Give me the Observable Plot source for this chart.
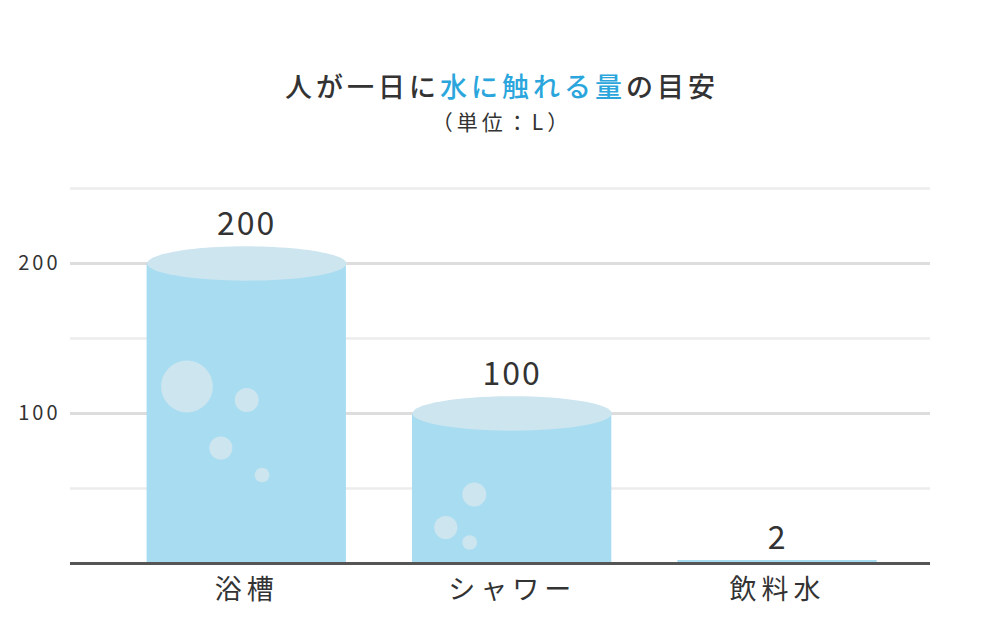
<!DOCTYPE html>
<html>
<head>
<meta charset="utf-8">
<script src="https://cdn.jsdelivr.net/npm/d3@7"></script>
<script src="https://cdn.jsdelivr.net/npm/@observablehq/plot@0.6"></script>
<style>
  body { margin: 0; background: #fff; font-family: "Noto Sans CJK JP", "Noto Sans", sans-serif; }
  #wrap { width: 1000px; height: 636px; position: relative; overflow: hidden; }
  #head { height: 150px; position: relative; color: #333; text-align: center; }
  #title { position: absolute; left: 0; right: 0; top: 70px; font-size: 27px; line-height: 32px; letter-spacing: 4px; padding-left: 4px; font-weight: 500; }
  #title .hl { color: #2ba6dd; }
  #sub { position: absolute; left: 0; right: 0; top: 107px; font-size: 21px; line-height: 28px; letter-spacing: 4px; padding-left: 4px; }
  g[aria-label="x-axis tick label"] text { letter-spacing: 5px; }
  g[aria-label="y-axis tick label"] text { letter-spacing: 3px; }
  g.vlabel text { letter-spacing: 2px; }
</style>
</head>
<body>
<div id="wrap">
  <div id="head">
    <div id="title">人が一日に<span class="hl">水に触れる量</span>の目安</div>
    <div id="sub">（単位：L）</div>
  </div>
  <div id="chart"></div>
</div>
<script>
// ---- data ----
const categories = ["浴槽", "シャワー", "飲料水"];
const values = [200, 100, 2];
const majorTicks = [100, 200];
const minorGrid = [50, 150, 250];
const yDomain = [0, 250];

// decorative bubbles inside the bars
const bubbleCat    = ["浴槽", "浴槽", "浴槽", "浴槽", "シャワー", "シャワー", "シャワー"];
const bubbleOffset = [-0.30, 0.0, -0.13, 0.077, -0.19, -0.333, -0.213]; // share of bar width from bar centre
const bubbleLevel  = [118, 109, 77, 59, 46, 24, 14];                   // height of bubble centre, in L
const bubbleSize   = [0.13, 0.06, 0.058, 0.037, 0.06, 0.058, 0.037];    // radius as share of bar width

// ---- build ----
const data = categories.map((c, i) => ({cat: c, value: values[i]}));
const bubbles = bubbleCat.map((c, i) => ({cat: c, offset: bubbleOffset[i], level: bubbleLevel[i], size: bubbleSize[i]}));

const xRange = [80.5, 942.8];
const xPadding = 0.249;
const xScale = Plot.scale({x: {type: "band", domain: categories, range: xRange, padding: xPadding, round: false}});
const bw = typeof xScale.bandwidth === "function" ? xScale.bandwidth() : xScale.bandwidth;
const rx = bw / 2;
const ryRatio = 0.172;
const ry = rx * ryRatio;

const ellipse = {
  draw(ctx, size) {
    const a = Math.sqrt(size / Math.PI), b = a * ryRatio, k = 0.5523;
    ctx.moveTo(a, 0);
    ctx.bezierCurveTo(a, b * k, a * k, b, 0, b);
    ctx.bezierCurveTo(-a * k, b, -a, b * k, -a, 0);
    ctx.bezierCurveTo(-a, -b * k, -a * k, -b, 0, -b);
    ctx.bezierCurveTo(a * k, -b, a, -b * k, a, 0);
    ctx.closePath();
  }
};

const barColor = "#a8dcf1";
const lightColor = "#cde5ef";
const hasTop = d => d.value >= 10;

const chart = Plot.plot({
  width: 1000,
  height: 486,
  marginLeft: 70,
  marginRight: 70,
  marginTop: 38,
  marginBottom: 73,
  style: {fontFamily: "'Noto Sans CJK JP', 'Noto Sans', sans-serif", color: "#333", background: "#fff", overflow: "visible"},
  x: {domain: categories, range: xRange, padding: xPadding, round: false, label: null},
  y: {domain: yDomain, label: null},
  r: {type: "identity"},
  marks: [
    Plot.ruleY(minorGrid, {stroke: "#ececec", strokeWidth: 2.5}),
    Plot.ruleY(majorTicks, {stroke: "#dddddd", strokeWidth: 3}),
    Plot.barY(data, {x: "cat", y: "value", fill: barColor}),
    Plot.dot(data.filter(hasTop), {x: "cat", y: "value", r: rx, symbol: ellipse, fill: lightColor, stroke: null}),
    Plot.dot(bubbles, {
      x: "cat", y: "level", r: d => d.size * bw, fill: lightColor, stroke: null,
      render(index, scales, vals, dims, context, next) {
        const g = next(index, scales, vals, dims, context);
        d3.select(g).selectAll("circle").each(function(_, j) {
          const i = index[j];
          d3.select(this).attr("cx", +vals.x[i] + bubbles[i].offset * bw);
        });
        return g;
      }
    }),
    Plot.ruleY([0], {stroke: "#555", strokeWidth: 3}),
    Plot.axisY(majorTicks, {tickSize: 0, tickPadding: 10, fontSize: 20, fill: "#333", label: null}),
    Plot.axisX({tickSize: 0, tickPadding: 16, fontSize: 27, fill: "#333", label: null}),
    Plot.text(data.filter(hasTop), {x: "cat", y: "value", text: d => String(d.value), dy: -(ry + 22), fontSize: 32, fill: "#333", className: "vlabel"}),
    Plot.text(data.filter(d => !hasTop(d)), {x: "cat", y: "value", text: d => String(d.value), dy: -22, fontSize: 32, fill: "#333", className: "vlabel"})
  ]
});
document.getElementById("chart").appendChild(chart);
</script>
</body>
</html>
